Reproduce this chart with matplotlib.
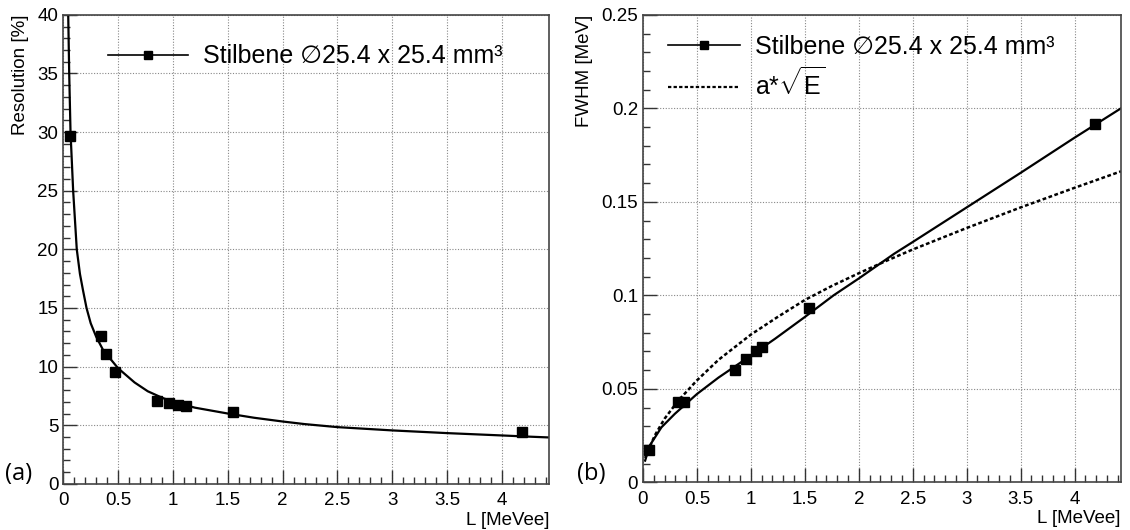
import numpy as np
import matplotlib
matplotlib.use('Agg')
import matplotlib.pyplot as plt
from matplotlib.ticker import MultipleLocator, FuncFormatter

plt.rcParams['font.family'] = ['Liberation Sans', 'DejaVu Sans']
plt.rcParams['mathtext.fontset'] = 'custom'
plt.rcParams['mathtext.rm'] = 'Liberation Sans'
plt.rcParams['mathtext.it'] = 'Liberation Sans'

# (a) resolution data points
res_x = [0.06, 0.34, 0.388, 0.473, 0.858, 0.964, 1.05, 1.115, 1.545, 4.18]
res_y = [29.7, 12.65, 11.1, 9.5, 7.06, 6.9, 6.75, 6.6, 6.1, 4.41]

# (a) fitted curve
res_fit_x = [0.045, 0.054, 0.066, 0.09, 0.123, 0.152, 0.18, 0.212, 0.25, 0.3, 0.364,
             0.5, 0.65, 0.77, 0.9, 1.0, 1.2, 1.5, 1.74, 2.0, 2.2, 2.5, 3.0, 3.5, 4.0, 4.27, 4.43]
res_fit_y = [40, 35, 30, 25, 20, 17.9, 16.5, 15, 13.7, 12.55, 11.4,
             9.86, 8.65, 7.9, 7.35, 7.0, 6.5, 6.0, 5.64, 5.32, 5.1, 4.84, 4.56, 4.33, 4.13, 4.02, 3.96]

# (b) FWHM data points
fwhm_x = [0.056, 0.326, 0.38, 0.853, 0.955, 1.05, 1.107, 1.535, 4.19]
fwhm_y = [0.0173, 0.0428, 0.0428, 0.0603, 0.066, 0.0704, 0.0722, 0.0933, 0.1917]

# (b) fitted curve (solid)
fwhm_fit_x = [0.02, 0.062, 0.171, 0.295, 0.5, 0.7, 0.853, 1.0, 1.225, 1.5, 1.767, 2.0,
              2.33, 2.5, 3.0, 3.5, 4.0, 4.43]
fwhm_fit_y = [0.0116, 0.0196, 0.0294, 0.0366, 0.0472, 0.056, 0.062, 0.0678, 0.0768, 0.0884, 0.1, 0.109,
              0.1223, 0.1285, 0.147, 0.1655, 0.1843, 0.2]

# (b) a*sqrt(E) curve (dotted)
sqrt_x = [0.02, 0.109, 0.2, 0.326, 0.5, 0.7, 1.0, 1.25, 1.5, 1.75, 2.0,
          2.25, 2.5, 3.0, 3.5, 4.0, 4.43]
sqrt_y = [0.013, 0.025, 0.034, 0.0436, 0.0545, 0.0655, 0.079, 0.0885, 0.0975, 0.105, 0.1118,
          0.1183, 0.1245, 0.136, 0.147, 0.1575, 0.1663]

legend_label = 'Stilbene \u220525.4 x 25.4 mm\u00b3'
x_max = 4.43


def style_axes(ax, ymax, ymajor, yminor, ylabel):
    ax.set_xlim(0, x_max)
    ax.set_ylim(0, ymax)
    ax.xaxis.set_major_locator(MultipleLocator(0.5))
    ax.xaxis.set_minor_locator(MultipleLocator(0.1))
    ax.yaxis.set_major_locator(MultipleLocator(ymajor))
    ax.yaxis.set_minor_locator(MultipleLocator(yminor))
    fmt = FuncFormatter(lambda v, p: '%g' % round(v, 4))
    ax.xaxis.set_major_formatter(fmt)
    ax.yaxis.set_major_formatter(fmt)
    ax.tick_params(which='both', direction='in', top=False, right=False,
                   color='#333333', labelsize=13.5)
    ax.tick_params(which='major', length=10, width=1)
    ax.tick_params(which='minor', length=5, width=1)
    ax.tick_params(axis='x', pad=6)
    ax.grid(True, which='major', color='#888888', linestyle=(0, (1, 1.5)), linewidth=0.8)
    for s in ax.spines.values():
        s.set_color('#444444')
        s.set_linewidth(1.2)
    ax.set_xlabel('L [MeVee]', loc='right', fontsize=13.5, labelpad=2)
    ax.set_ylabel(ylabel, loc='top', fontsize=13.5, labelpad=6)


fig = plt.figure(figsize=(11.3, 5.3), dpi=100)
ax1 = fig.add_axes([0.056, 0.087, 0.430, 0.885])
ax2 = fig.add_axes([0.569, 0.09, 0.423, 0.882])

# panel (a)
style_axes(ax1, 40, 5, 1, 'Resolution [%]')
ax1.plot(res_fit_x, res_fit_y, color='black', linewidth=1.6)
ax1.plot(res_x, res_y, 's', color='black', markersize=7, linestyle='none')
h1, = ax1.plot([], [], color='black', linewidth=1.2, marker='s', markersize=6)
ax1.legend([h1], [legend_label], loc='upper left', bbox_to_anchor=(0.045, 0.985),
           frameon=False, fontsize=18, handlelength=3.2, handletextpad=0.6)
fig.text(0.004, 0.095, '(a)', fontsize=17, family='Open Sans')

# panel (b)
style_axes(ax2, 0.25, 0.05, 0.01, 'FWHM [MeV]')
ax2.plot(fwhm_fit_x, fwhm_fit_y, color='black', linewidth=1.6)
ax2.plot(sqrt_x, sqrt_y, color='black', linewidth=1.8, linestyle=(0, (1.5, 1)))
ax2.plot(fwhm_x, fwhm_y, 's', color='black', markersize=7, linestyle='none')
h2, = ax2.plot([], [], color='black', linewidth=1.2, marker='s', markersize=6)
h3, = ax2.plot([], [], color='black', linewidth=1.6, linestyle=(0, (1.5, 1)))
ax2.legend([h2, h3], [legend_label, r'a*$\sqrt{E}$'], loc='upper left',
           bbox_to_anchor=(0.005, 1.005), frameon=False, fontsize=18,
           handlelength=2.9, handletextpad=0.6, labelspacing=0.35)
fig.text(0.511, 0.095, '(b)', fontsize=17, family='Open Sans')

fig.savefig('out.png', dpi=100)
